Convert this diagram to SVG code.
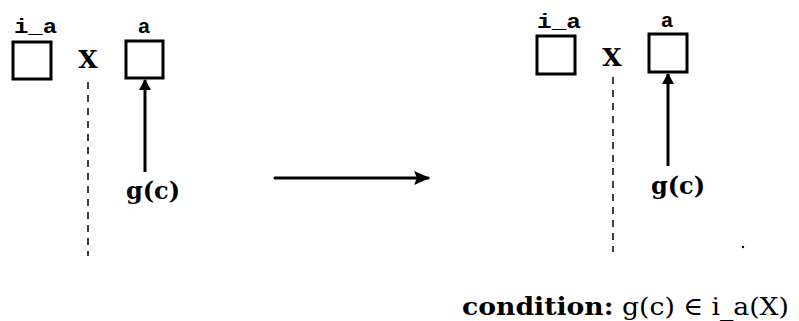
<svg xmlns="http://www.w3.org/2000/svg" width="799" height="321" viewBox="0 0 799 321">
  <style>
    .box { fill: #fff; stroke: #000; stroke-width: 3; }
    .mono { font-family: "Liberation Mono", "DejaVu Sans Mono", monospace; font-weight: bold; font-size: 21px; fill: #000; }
    .serif { font-family: "DejaVu Serif", "Liberation Serif", serif; fill: #000; }
    .big { font-size: 25px; font-weight: bold; }
    .lbl { font-size: 24px; font-weight: bold; }
    .cond { font-size: 25px; }
    .dash { stroke: #000; stroke-width: 1.5; stroke-dasharray: 7 6; fill: none; }
    .arr { stroke: #000; stroke-width: 3; fill: none; }
  </style>
  <defs>
    <marker id="head" markerWidth="11" markerHeight="12" refX="10" refY="6" orient="auto" markerUnits="userSpaceOnUse">
      <path d="M0,0 L11,6 L0,12 Z" fill="#000"/>
    </marker>
    <marker id="bighead" markerWidth="16" markerHeight="14" refX="14" refY="7" orient="auto" markerUnits="userSpaceOnUse">
      <path d="M0,0 L16,7 L0,14 L3,7 Z" fill="#000"/>
    </marker>
  </defs>

  <!-- before state -->
  <g id="left-ia">
    <text class="mono" x="14" y="33" textLength="43" lengthAdjust="spacingAndGlyphs">i_a</text>
    <rect class="box" x="13" y="42" width="38" height="37"/>
  </g>
  <g id="left-x">
    <text class="serif big" x="88" y="68" text-anchor="middle">X</text>
  </g>
  <g id="left-a">
    <text class="mono" x="144" y="33" text-anchor="middle">a</text>
    <rect class="box" x="126" y="41" width="37" height="37"/>
  </g>
  <g id="left-gc">
    <text class="serif lbl" x="153" y="199" text-anchor="middle">g(c)</text>
  </g>

  <!-- after state -->
  <g id="right-ia">
    <text class="mono" x="537" y="28" textLength="44" lengthAdjust="spacingAndGlyphs">i_a</text>
    <rect class="box" x="537" y="36" width="38" height="38"/>
  </g>
  <g id="right-x">
    <text class="serif big" x="612" y="66" text-anchor="middle">X</text>
  </g>
  <g id="right-a">
    <text class="mono" x="667" y="27" text-anchor="middle">a</text>
    <rect class="box" x="649" y="34" width="38" height="38"/>
  </g>
  <g id="right-gc">
    <text class="serif lbl" x="678" y="194" text-anchor="middle">g(c)</text>
  </g>

  <g id="condition">
    <text class="serif cond" x="462" y="315" textLength="327" lengthAdjust="spacingAndGlyphs"><tspan font-weight="bold">condition:</tspan>  g(c) ∈ i_a(X)</text>
  </g>

  <circle cx="743" cy="247" r="1.2" fill="#000"/>

  <g id="connectors">
    <line class="dash" x1="88" y1="82" x2="88" y2="256"/>
    <line class="dash" x1="613" y1="77" x2="613" y2="252"/>
    <line class="arr" x1="145" y1="172" x2="145" y2="80" marker-end="url(#head)"/>
    <line class="arr" x1="668" y1="166" x2="668" y2="74" marker-end="url(#head)"/>
    <line class="arr" x1="275" y1="178" x2="428" y2="178" stroke-width="3.5" stroke-linecap="round" marker-end="url(#bighead)"/>
  </g>
</svg>
